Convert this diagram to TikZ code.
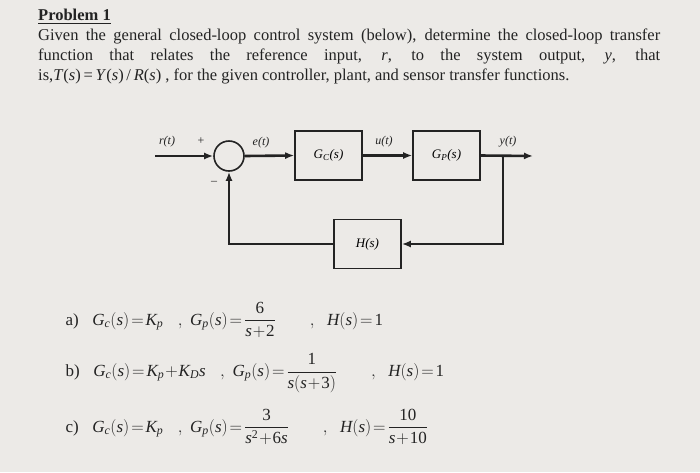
\documentclass[tikz,border=0pt]{standalone}
\usepackage{fontspec}
\setmainfont{Liberation Serif}
\usepackage{amsmath}
\usetikzlibrary{arrows.meta}
\definecolor{bg}{RGB}{236,234,231}
\definecolor{ink}{RGB}{35,35,35}
\newcommand\vv[1]{\text{\itshape #1}}
\newcommand\rr[1]{\text{\upshape #1}}
\begin{document}
\begin{tikzpicture}[x=1pt,y=-1pt,
  blk/.style={draw=ink,line width=1.6pt,minimum width=67pt,minimum height=49pt,inner sep=0pt,font=\fontsize{13}{15}\selectfont\itshape},
  sig/.style={draw=ink,line width=2.6pt,-{Latex[length=9pt,width=7pt]}},
  lab/.style={font=\fontsize{12}{14}\selectfont\itshape,text=ink},
  eq/.style={anchor=west,font=\fontsize{17}{20}\selectfont,text=ink}]
\fill[bg] (0,0) rectangle (700,472);
\useasboundingbox (0,0) rectangle (700,472);
\node[anchor=north west,inner sep=0pt,text=ink,font=\fontsize{16.5}{20}\selectfont] (txt) at (38,9)
 {\parbox{622pt}{\textbf{\underline{Problem 1}}\\
 Given the general closed-loop control system (below), determine the closed-loop transfer\linebreak function that relates the reference input, \textit{r}, to the system output, \textit{y}, that\linebreak is,\textit{T}(\textit{s})\,=\,\textit{Y}(\textit{s})\,/\,\textit{R}(\textit{s}) , for the given controller, plant, and sensor transfer functions.}};
\node[circle,draw=ink,line width=1.6pt,minimum size=30pt,inner sep=0pt] (sum) at (229,156) {};
\node[blk] (gc) at (328.5,155.5) {G\textsubscript{C}(s)};
\node[blk] (gp) at (446.5,155.5) {G\textsubscript{P}(s)};
\node[blk] (h) at (367.5,244) {H(s)};
\coordinate (in) at (155,156);
\coordinate (out) at (533,156);
\coordinate (tap) at (503,156);
\draw[sig] (in) -- (sum.west);
\draw[sig] (sum.east) -- (gc.west);
\draw[sig] (gc.east) -- (gp.west);
\draw[sig] (gp.east) -- (out);
\draw[sig] (tap) |- (h.east);
\draw[sig] (h.west) -| (sum.south);
\node[lab] (lr) at (167,142) {r(t)};
\node[lab] (lp) at (201,141) {\upshape +};
\node[lab] (lm) at (214,183) {\upshape --};
\node[lab] (le) at (261,143) {e(t)};
\node[lab] (lu) at (384,142) {u(t)};
\node[lab] (ly) at (508,142) {y(t)};
\node[eq] (ea) at (62,320) {a)\;\; $\vv{G}_{\vv{c}}(\vv{s})\!=\!\vv{K}_{\vv{p}}\;\;\;,\;\vv{G}_{\vv{p}}(\vv{s})\!=\!\dfrac{\rr{6}}{\vv{s}\!+\!\rr{2}}\qquad,\;\;\vv{H}(\vv{s})\!=\!\rr{1}$};
\node[eq] (eb) at (62,373) {b)\;\; $\vv{G}_{\vv{c}}(\vv{s})\!=\!\vv{K}_{\vv{p}}\!+\!\vv{K}_{\vv{D}}\vv{s}\;\;\;,\;\vv{G}_{\vv{p}}(\vv{s})\!=\!\dfrac{\rr{1}}{\vv{s}(\vv{s}\!+\!\rr{3})}\qquad,\;\;\vv{H}(\vv{s})\!=\!\rr{1}$};
\node[eq] (ec) at (62,427) {c)\;\; $\vv{G}_{\vv{c}}(\vv{s})\!=\!\vv{K}_{\vv{p}}\;\;\;,\;\vv{G}_{\vv{p}}(\vv{s})\!=\!\dfrac{\rr{3}}{\vv{s}^{\rr{2}}\!+\!\rr{6}\vv{s}}\qquad,\;\;\vv{H}(\vv{s})\!=\!\dfrac{\rr{10}}{\vv{s}\!+\!\rr{10}}$};
\end{tikzpicture}
\end{document}
